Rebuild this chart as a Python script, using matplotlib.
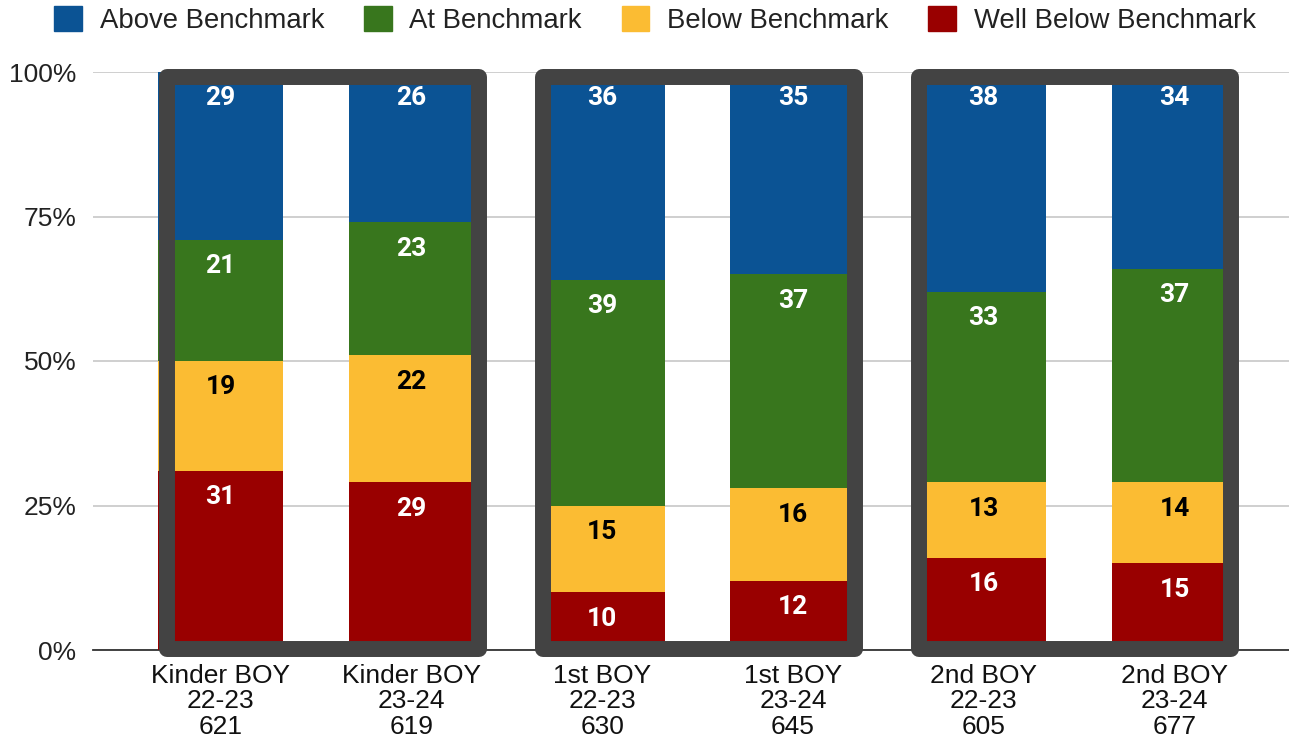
import numpy as np
import matplotlib
matplotlib.use("Agg")
from matplotlib import pyplot as plt
from matplotlib.patches import Patch, Rectangle

# data (percent of students per benchmark level)
categories = ["Kinder BOY\n22-23\n621", "Kinder BOY\n23-24\n619",
              "1st BOY\n22-23\n630", "1st BOY\n23-24\n645",
              "2nd BOY\n22-23\n605", "2nd BOY\n23-24\n677"]
well_below = [31, 29, 10, 12, 16, 15]
below = [19, 22, 15, 16, 13, 14]
at_bm = [21, 23, 39, 37, 33, 37]
above = [29, 26, 36, 35, 38, 34]

series_names = ["Well Below Benchmark", "Below Benchmark", "At Benchmark", "Above Benchmark"]
series_colors = ["#990000", "#fbbc33", "#38761d", "#0b5394"]
label_colors = ["white", "black", "white", "white"]

plt.rcParams['font.family'] = ['Liberation Sans', 'DejaVu Sans']

fig = plt.figure(figsize=(12.89, 7.44), dpi=100)
ax = fig.add_axes([93 / 1289, 94 / 744, 1196 / 1289, 578 / 744])

x = np.arange(len(categories))
bar_w = 0.655
bottom = np.zeros(len(categories))
for name, vals, col, lcol in zip(series_names, [well_below, below, at_bm, above],
                                 series_colors, label_colors):
    vals = np.array(vals)
    ax.bar(x, vals, bar_w, bottom=bottom, color=col, zorder=2, label=name)
    tops = bottom + vals
    for xi, t, v in zip(x, tops, vals):
        ax.annotate(str(v), (xi, t), xytext=(0, -19), textcoords="offset points",
                    ha="center", va="center", color=lcol, fontsize=19,
                    fontweight="bold", family=["Roboto", "DejaVu Sans"], zorder=4)
    bottom = tops

# dark frames around each grade pair
frame_left = [-0.28, -0.31, -0.34]
for i, off in enumerate(frame_left):
    ax.add_patch(Rectangle((2 * i + off, 0.2), 1.635, 98.9, fill=False,
                           edgecolor="#434343", linewidth=11.5,
                           joinstyle="round", zorder=3, clip_on=False))

ax.set_xlim(-0.668, 5.6)
ax.set_ylim(0, 100)
ax.set_yticks([0, 25, 50, 75, 100])
ax.set_yticklabels(["0%", "25%", "50%", "75%", "100%"], fontsize=19, color="#222222")
ax.set_xticks(x)
ax.set_xticklabels(categories, fontsize=19, linespacing=1.08, color="#111111")
ax.tick_params(axis="both", length=0)
ax.tick_params(axis="y", pad=12)
ax.tick_params(axis="x", pad=10)
ax.grid(axis="y", color="#cccccc", linewidth=1.3, zorder=0)
ax.set_axisbelow(True)
for s in ["top", "right", "left"]:
    ax.spines[s].set_visible(False)
ax.spines["bottom"].set_color("#333333")
ax.spines["bottom"].set_linewidth(1.3)
ax.spines["bottom"].set_zorder(1)

handles = [Patch(facecolor=c, edgecolor=c, label=n)
           for n, c in zip(series_names[::-1], series_colors[::-1])]
fig.legend(handles=handles, loc="center", bbox_to_anchor=(655 / 1289, 1 - 20 / 744),
           ncol=4, frameon=False, fontsize=19.8, handlelength=1.0, handleheight=1.0,
           handletextpad=0.65, columnspacing=1.45, labelcolor="#222222")

fig.savefig("out.png", dpi=100)
